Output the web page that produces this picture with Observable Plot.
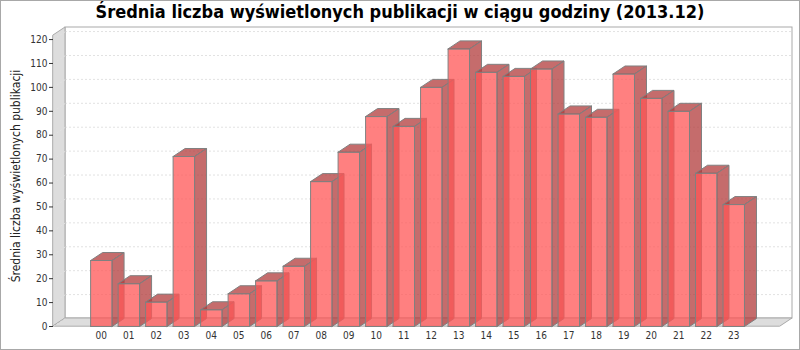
<!DOCTYPE html>
<html><head><meta charset="utf-8">
<script src="https://cdn.jsdelivr.net/npm/d3@7"></script>
<script src="https://cdn.jsdelivr.net/npm/@observablehq/plot@0.6"></script>
<style>
html,body{margin:0;padding:0;background:#fff;}
#wrap{position:relative;width:800px;height:350px;overflow:hidden;font-family:"DejaVu Sans Condensed","DejaVu Sans",sans-serif;font-stretch:condensed;}
#title{position:absolute;top:0;left:0;width:800px;height:24px;line-height:24px;text-align:center;font-size:18px;font-weight:bold;color:#000;white-space:nowrap;}
#chart{position:absolute;top:24px;left:0;}
#border{position:absolute;left:0;top:0;width:800px;height:350px;box-sizing:border-box;border:1px solid #a8a8a8;pointer-events:none;}
</style></head>
<body><div id="wrap"><div id="title"></div><div id="chart"></div><div id="border"></div></div>
<script>
const titleText = "Średnia liczba wyświetlonych publikacji w ciągu godziny (2013.12)";
const yLabel = "Średnia liczba wyświetlonych publikacji";
const hours = ["00","01","02","03","04","05","06","07","08","09","10","11","12","13","14","15","16","17","18","19","20","21","22","23"];
const values = [27.6, 17.9, 10.2, 71.1, 7.0, 13.7, 19.1, 25.2, 60.6, 72.9, 87.8, 83.7, 100.0, 116.1, 106.3, 104.6, 107.7, 88.9, 87.5, 105.6, 95.4, 90.0, 64.1, 51.0];
const yTicks = [0, 10, 20, 30, 40, 50, 60, 70, 80, 90, 100, 110, 120];

document.getElementById("title").textContent = titleText;

// layout / style constants
const W = 800, H = 326, ML = 53, MR = 20, MT = 11, MB = 24;
const XMIN = -1.74, XMAX = 24.70, YMAX = 121.7;
const DEPTH_X = 12, DEPTH_Y = 8, BAR_W = 0.78;
const FRONT = "#ff5555", SIDE = "#b23b3b";
const WALL = "#dddddd", WALL_LINE = "#aaaaaa", GRID = "#e2e2e2";

const kx = (XMAX - XMIN) / (W - ML - MR);
const ky = YMAX / (H - MT - MB);
const dxU = DEPTH_X * kx, dyU = DEPTH_Y * ky;

// polygons for the 3D bars, ordered bar by bar
const polys = [];
values.forEach((v, i) => {
  const xl = i - BAR_W / 2, xr = i + BAR_W / 2;
  const faces = [
    ["front", FRONT, [[xl, 0], [xr, 0], [xr, v], [xl, v]]],
    ["side", SIDE, [[xr, 0], [xr + dxU, dyU], [xr + dxU, v + dyU], [xr, v]]],
    ["top", SIDE, [[xl, v], [xr, v], [xr + dxU, v + dyU], [xl + dxU, v + dyU]]]
  ];
  faces.forEach(([name, color, pts]) => {
    [...pts, pts[0]].forEach(([x, y]) => polys.push({id: i + "-" + name, color, x, y}));
  });
});

const backWall = [{x1: XMIN, x2: XMAX, y1: 0, y2: YMAX}];
const gridRows = yTicks.map(t => ({y: t, x1: XMIN, x2: XMAX}));
const leftWall = [{x: XMIN, y1: 0, y2: YMAX}, {x: XMIN + dxU, y1: dyU, y2: YMAX + dyU}];
const floor = [{y: 0, x1: XMIN, x2: XMAX}, {y: dyU, x1: XMIN + dxU, x2: XMAX + dxU}];
const diagonals = yTicks.map(t => ({x1: XMIN, y1: t, x2: XMIN + dxU, y2: t + dyU}));

const chart = Plot.plot({
  width: W, height: H,
  marginLeft: ML, marginRight: MR, marginTop: MT, marginBottom: MB,
  style: {fontFamily: "'DejaVu Sans Condensed','DejaVu Sans',sans-serif", fontStretch: "condensed", fontSize: "10px", background: "white"},
  x: {domain: [XMIN, XMAX]},
  y: {domain: [0, YMAX]},
  color: {type: "identity"},
  marks: [
    Plot.rect(backWall, {x1: "x1", x2: "x2", y1: "y1", y2: "y2", dx: DEPTH_X, dy: -DEPTH_Y, fill: "white", stroke: WALL_LINE}),
    Plot.ruleY(gridRows, {y: "y", x1: "x1", x2: "x2", dx: DEPTH_X, dy: -DEPTH_Y, stroke: GRID, strokeDasharray: "2,2"}),
    Plot.areaY(leftWall, {x: "x", y1: "y1", y2: "y2", fill: WALL, stroke: WALL_LINE}),
    Plot.areaX(floor, {y: "y", x1: "x1", x2: "x2", fill: WALL, stroke: WALL_LINE}),
    Plot.link(diagonals, {x1: "x1", y1: "y1", x2: "x2", y2: "y2", stroke: GRID, strokeDasharray: "2,2"}),
    Plot.line(polys, {x: "x", y: "y", z: "id", fill: "color", fillOpacity: 0.75, stroke: "#808080", strokeWidth: 1}),
    Plot.axisY(yTicks, {tickSize: 4, tickPadding: 2, fontSize: 10, color: "#333", label: null}),
    Plot.axisX(hours.map((_, i) => i), {tickFormat: i => hours[i], tickSize: 0, tickPadding: 5, fontSize: 10, color: "#333", label: null}),
    Plot.text([yLabel], {frameAnchor: "left", textAnchor: "middle", rotate: -90, dx: -37, dy: -5, fontSize: 12, fill: "#222"})
  ]
});
document.getElementById("chart").appendChild(chart);
</script>
</body></html>
